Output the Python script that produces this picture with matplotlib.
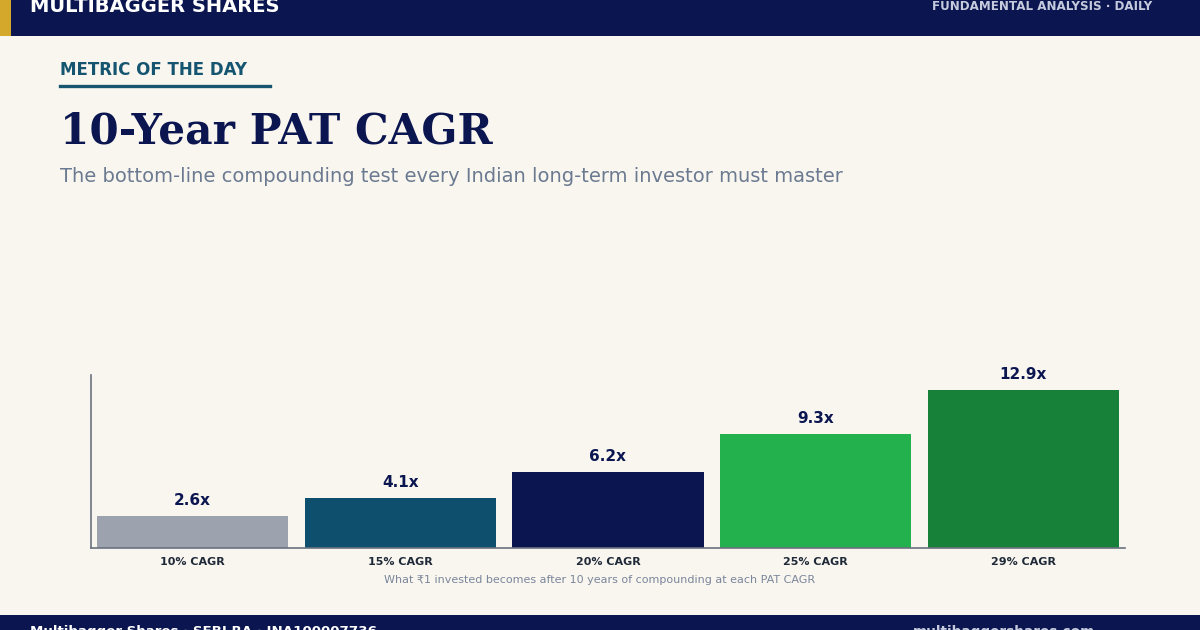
import matplotlib
matplotlib.use("Agg")
import matplotlib.pyplot as plt
from matplotlib.patches import Rectangle
from matplotlib.lines import Line2D

categories = ["10% CAGR", "15% CAGR", "20% CAGR", "25% CAGR", "29% CAGR"]
multiples = [2.6, 4.1, 6.2, 9.3, 12.9]
value_labels = ["2.6x", "4.1x", "6.2x", "9.3x", "12.9x"]
bar_colors = ["#9CA3AF", "#0E4F6E", "#0B1650", "#22B14C", "#178039"]

BG = "#F9F6F0"
NAVY = "#0B1650"
W, H = 1200, 630

fig = plt.figure(figsize=(12, 6.3), dpi=100, facecolor=BG)

def px(x, y):
    return x / W, 1 - y / H

# header band
fig.patches.append(Rectangle((0, 1 - 36 / H), 1, 36 / H, transform=fig.transFigure,
                             facecolor=NAVY, edgecolor="none", zorder=1))
fig.patches.append(Rectangle((0, 1 - 36 / H), 11 / W, 36 / H, transform=fig.transFigure,
                             facecolor="#D4A82A", edgecolor="none", zorder=2))
# footer band
fig.patches.append(Rectangle((0, 0), 1, 15 / H, transform=fig.transFigure,
                             facecolor=NAVY, edgecolor="none", zorder=1))

fig.text(*px(30, 6), "MULTIBAGGER SHARES", color="white", fontsize=14,
         fontweight="bold", ha="left", va="center", zorder=3)
fig.text(*px(1152, 6), "FUNDAMENTAL ANALYSIS · DAILY", color="#C5CBDD", fontsize=8.6,
         fontweight="bold", ha="right", va="center", zorder=3)

fig.text(*px(30, 625), "Multibagger Shares · SEBI RA · INA100007736", color="white",
         fontsize=9.6, fontweight="bold", ha="left", va="top", zorder=3)
fig.text(*px(1095, 625), "multibaggershares.com", color="#C5CBDD",
         fontsize=9.8, fontweight="bold", ha="right", va="top", zorder=3)

# metric of the day
fig.text(*px(60, 70), "METRIC OF THE DAY", color="#155570", fontsize=12,
         fontweight="bold", ha="left", va="center")
fig.lines.append(Line2D([60 / W, 270 / W], [1 - 85.5 / H, 1 - 85.5 / H],
                        transform=fig.transFigure, color="#155570", linewidth=2.4))

fig.text(*px(60, 131), "10-Year PAT CAGR", color=NAVY, fontsize=30.4,
         fontweight="bold", family="DejaVu Serif", ha="left", va="center")
fig.text(*px(60, 176), "The bottom-line compounding test every Indian long-term investor must master",
         color="#6B7A90", fontsize=14, ha="left", va="center")

# chart axes
ax = fig.add_axes([91 / W, 82 / H, (1125 - 91) / W, (548 - 375) / H])
ax.set_facecolor(BG)
x = list(range(len(categories)))
bars = ax.bar(x, multiples, width=0.92, color=bar_colors, zorder=2)
ax.set_xlim(-0.49, 4.49)
ax.set_ylim(0, 14.1)
ax.set_yticks([])
ax.set_xticks(x)
ax.set_xticklabels(categories, fontsize=8, fontweight="bold", color="#1F2937")
ax.tick_params(axis="x", length=0, pad=6.5)
for s in ["top", "right"]:
    ax.spines[s].set_visible(False)
for s in ["left", "bottom"]:
    ax.spines[s].set_color("#6B7280")
    ax.spines[s].set_linewidth(1.2)

for xi, v, lab in zip(x, multiples, value_labels):
    ax.annotate(lab, (xi, v), xytext=(0, 5.5), textcoords="offset points",
                ha="center", va="bottom", fontsize=11, fontweight="bold", color=NAVY)

fig.text(*px(600, 580), "What ₹1 invested becomes after 10 years of compounding at each PAT CAGR",
         color="#7A869A", fontsize=8, ha="center", va="center")

fig.savefig("out.png", dpi=100, facecolor=BG)
